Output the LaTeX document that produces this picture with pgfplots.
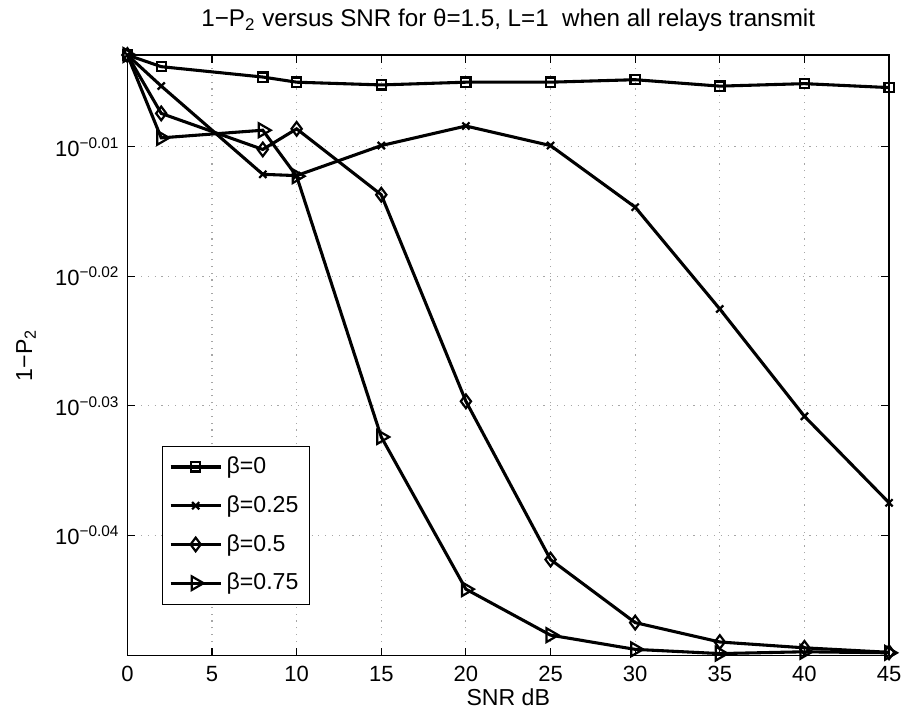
\documentclass[border=0pt]{standalone}
\usepackage{pgfplots}
\pgfplotsset{compat=1.18}
\usepackage{fontspec}
\setmainfont{Liberation Sans}
\begin{document}
\begin{tikzpicture}
\begin{axis}[
  scale only axis, width=346.2pt, height=273.0pt,
  xmin=0, xmax=45, xtick={0,5,...,45},
  ymode=log, ymin=0.8927, ymax=0.99335,
  ytick={0.977237,0.954993,0.933254,0.912011},
  yticklabels={10\textsuperscript{−0.01},10\textsuperscript{−0.02},10\textsuperscript{−0.03},10\textsuperscript{−0.04}},
  /pgf/number format/assume math mode=true,
  tick align=inside, major tick length=3.6pt,
  grid=major, grid style={gray!70, line width=0.5pt, dash pattern=on 0.5pt off 2.6pt},
  axis line style={line width=0.6pt},
  every tick/.style={black, line width=0.5pt},
  tick label style={font=\fontsize{10}{12}\selectfont},
  xticklabel style={yshift=-1.2pt},
  every axis title shift=0pt,
  title={1−P\textsubscript{2} versus SNR for θ=1.5, L=1\ \ when all relays transmit},
  title style={font=\fontsize{11}{13}\selectfont, at={(axis description cs:0.5,1.058)}, anchor=center},
  xlabel={SNR dB},
  xlabel style={font=\fontsize{10.5}{12}\selectfont, at={(axis description cs:0.5,-0.07)}, anchor=center},
  ylabel={1−P\textsubscript{2}},
  ylabel style={font=\fontsize{10.5}{12}\selectfont, at={(axis description cs:-0.133,0.5)}, anchor=center, rotate=0},
  legend image code/.code={\draw[line width=1.4pt,mark repeat=2,mark phase=2,#1] plot coordinates {(0cm,0cm) (0.4cm,0cm) (0.8cm,0cm)};},
  legend style={at={(axis description cs:0.0455,0.0849)}, anchor=south west, draw=black, fill=white,
    font=\fontsize{10.5}{12}\selectfont, row sep=4.5pt, inner sep=3pt, cells={anchor=west}},
]
\addplot[black, line width=1.4pt, mark=square, mark size=2.1pt, mark options={solid, line width=1pt}] coordinates {
 (0,0.99335) (2,0.99129) (8,0.98946) (10,0.98855) (15,0.98810) (20,0.98855)
 (25,0.98855) (30,0.98901) (35,0.98787) (40,0.98832) (45,0.98764)};
\addlegendentry{β=0}
\addplot[black, line width=1.4pt, mark=x, mark size=2.3pt, mark options={solid, line width=1pt}] coordinates {
 (0,0.99335) (2,0.98789) (8,0.97250) (10,0.97228) (15,0.97746) (20,0.98089)
 (25,0.97746) (30,0.96683) (35,0.94947) (40,0.93151) (45,0.91730)};
\addlegendentry{β=0.25}
\addplot[black, line width=1.4pt, mark=diamond, mark size=3.1pt, mark options={solid, line width=1pt}] coordinates {
 (0,0.99335) (2,0.98311) (8,0.97681) (10,0.98039) (15,0.96895) (20,0.93401)
 (25,0.90809) (30,0.89795) (35,0.89485) (40,0.89396) (45,0.89326)};
\addlegendentry{β=0.5}
\addplot[black, line width=1.4pt, mark=triangle, mark size=3.6pt, mark options={solid, line width=1pt, rotate=-90}] coordinates {
 (0,0.99335) (2,0.97884) (8,0.98015) (10,0.97219) (15,0.92811) (20,0.90334)
 (25,0.89596) (30,0.89370) (35,0.89302) (40,0.89333) (45,0.89316)};
\addlegendentry{β=0.75}
\end{axis}
\pgfresetboundingbox
\path[use as bounding box] ([xshift=-57.9pt,yshift=-26.5pt]current axis.south west) rectangle ([xshift=7.7pt,yshift=25pt]current axis.north east);
\end{tikzpicture}
\end{document}
